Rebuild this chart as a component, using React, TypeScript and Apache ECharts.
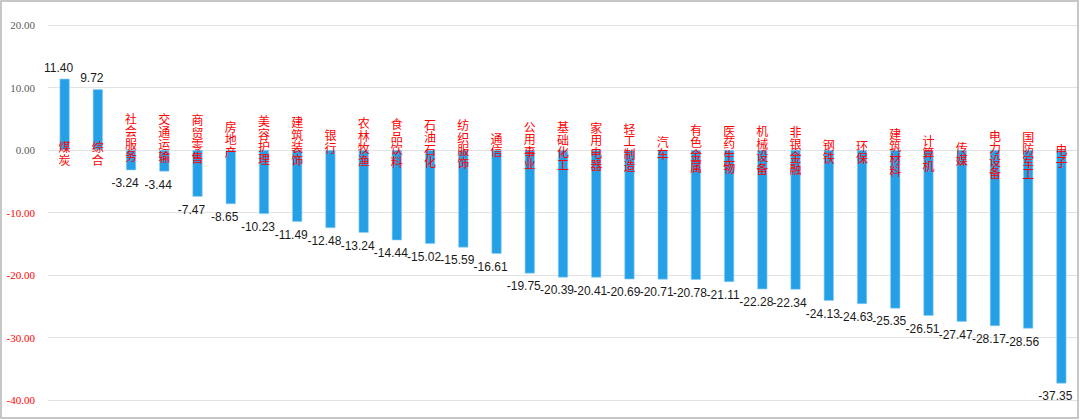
import React, { useEffect, useRef } from "react";
import * as echarts from "echarts";

const categories: string[] = [
  "煤炭", "综合", "社会服务", "交通运输", "商贸零售", "房地产", "美容护理", "建筑装饰",
  "银行", "农林牧渔", "食品饮料", "石油石化", "纺织服饰", "通信", "公用事业", "基础化工",
  "家用电器", "轻工制造", "汽车", "有色金属", "医药生物", "机械设备", "非银金融", "钢铁",
  "环保", "建筑材料", "计算机", "传媒", "电力设备", "国防军工", "电子",
];

const values: number[] = [
  11.4, 9.72, -3.24, -3.44, -7.47, -8.65, -10.23, -11.49,
  -12.48, -13.24, -14.44, -15.02, -15.59, -16.61, -19.75, -20.39,
  -20.41, -20.69, -20.71, -20.78, -21.11, -22.28, -22.34, -24.13,
  -24.63, -25.35, -26.51, -27.47, -28.17, -28.56, -37.35,
];

const yTicks: number[] = [-40, -30, -20, -10, 0, 10, 20];

const BLUE = "#259fe6";
const RED = "#ff0000";
const GRID = "#e3e3e3";
const CHAR_STEP = 12.5;

export default function App() {
  const ref = useRef<HTMLDivElement>(null);

  useEffect(() => {
    document.body.style.margin = "0";
    if (!ref.current) return;
    const chart = echarts.init(ref.current, undefined, { renderer: "svg" });

    const barData = values.map((v) => ({
      value: v,
      label: {
        position: v >= 0 ? "top" : "bottom",
        distance: v >= 0 ? 5 : 7,
      },
    }));

    const catLabelData = categories.map((c, i) => [i, 0]);

    chart.setOption({
      animation: false,
      backgroundColor: "#ffffff",
      grid: { left: 48, right: 2, top: 25, bottom: 20, containLabel: false },
      xAxis: {
        type: "category",
        data: categories,
        axisLine: { show: false },
        axisTick: { show: false },
        axisLabel: { show: false },
        splitLine: { show: false },
      },
      yAxis: {
        type: "value",
        min: yTicks[0],
        max: yTicks[yTicks.length - 1],
        interval: 10,
        axisLine: { show: false },
        axisTick: { show: false },
        splitLine: { show: true, lineStyle: { color: GRID, width: 1 } },
        axisLabel: {
          margin: 13,
          fontFamily: "Liberation Serif",
          fontSize: 11,
          formatter: (v: number) => v.toFixed(2),
          color: (v: any) => (Number(v) < 0 ? RED : "#595959"),
        },
      },
      series: [
        {
          type: "bar",
          data: barData,
          barWidth: 10,
          itemStyle: { color: BLUE, borderColor: "#8ccff5", borderWidth: 0.6 },
          label: {
            show: true,
            color: "#1a1a1a",
            fontFamily: "Liberation Sans",
            fontSize: 12,
            offset: [-6, 0],
            formatter: (p: any) => Number(p.value).toFixed(2),
          },
          z: 2,
        },
        {
          type: "custom",
          data: catLabelData,
          silent: true,
          z: 5,
          renderItem: (params: any, api: any) => {
            const i = api.value(0);
            const p = api.coord([i, 0]);
            const v = values[i];
            const center = p[1] + (v >= 0 ? 3 : -13 + 0.66 * (i - 2));
            const chars = categories[i].split("");
            const n = chars.length;
            return {
              type: "group",
              children: chars.map((ch, k) => ({
                type: "text",
                x: p[0],
                y: center + (k - (n - 1) / 2) * CHAR_STEP,
                style: {
                  text: ch,
                  fill: RED,
                  font: '12px "Noto Sans CJK SC"',
                  align: "center",
                  verticalAlign: "middle",
                },
              })),
            };
          },
        },
      ],
      graphic: [
        {
          type: "rect",
          shape: { x: 1, y: 1, width: 1077, height: 417 },
          style: { fill: "none", stroke: "#b5b5b5", lineWidth: 1.5 },
          silent: true,
          z: 100,
        },
      ],
    });

    return () => chart.dispose();
  }, []);

  return <div ref={ref} style={{ width: 1080, height: 420 }} />;
}
